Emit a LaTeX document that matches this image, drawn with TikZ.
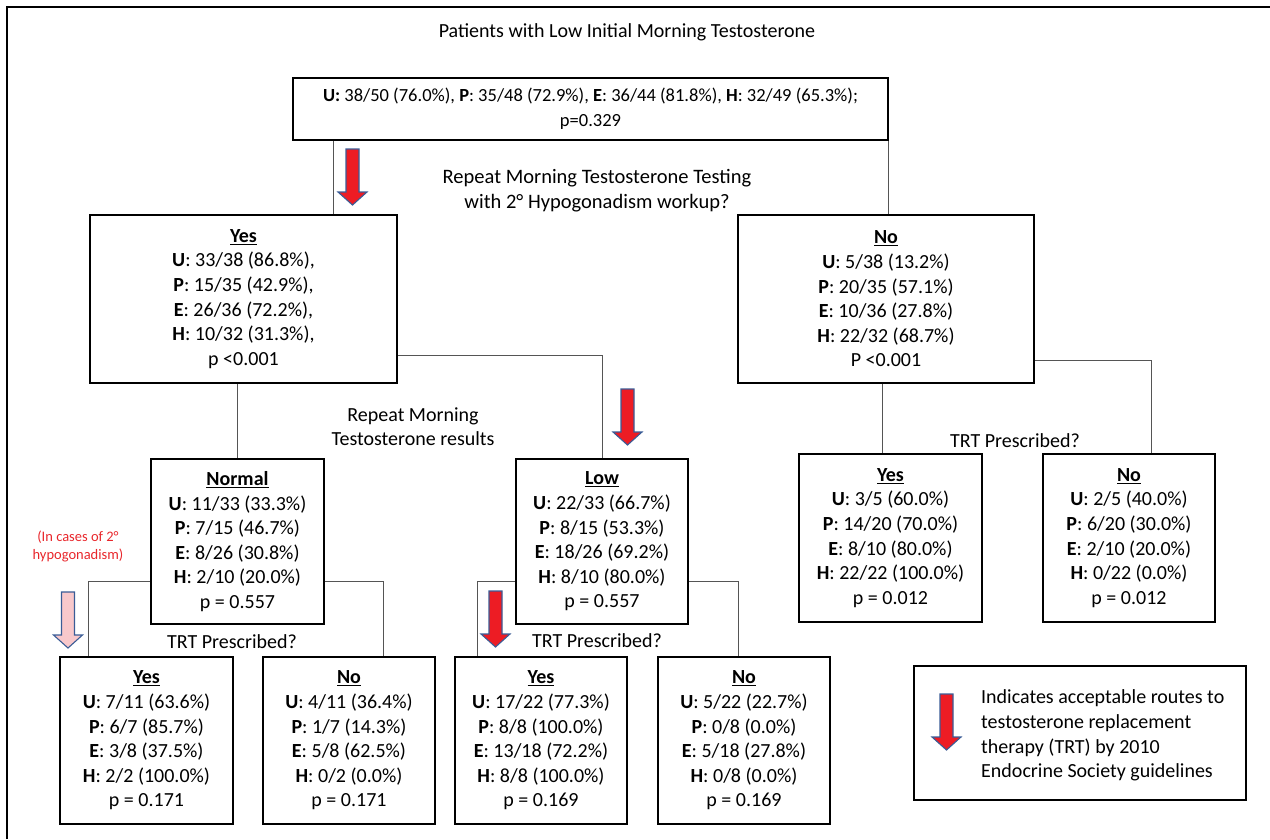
\documentclass[tikz,border=0pt]{standalone}
\usepackage{fontspec}
\setmainfont{Carlito}
\usepackage{xcolor}
\usepackage{tikz}
\usetikzlibrary{positioning}

\definecolor{arrowred}{RGB}{237,28,36}
\definecolor{arrowblue}{RGB}{58,92,150}
\definecolor{linkgray}{RGB}{85,85,85}
\definecolor{notered}{RGB}{232,38,43}
\definecolor{pinkmid}{RGB}{232,88,96}
\definecolor{pinkend}{RGB}{248,200,203}

% down arrow, top centre at (#1,#2)
\newcommand{\trtarrow}[3]{%
  \draw[#3,shift={(#1,#2)}] (-6.5,0) -- (6.5,0) -- (6.5,43) -- (14.5,43)
    -- (0,56) -- (-14.5,43) -- (-6.5,43) -- cycle;}

\begin{document}
\begin{tikzpicture}[x=1pt,y=-1pt,
  font=\fontsize{20}{24.6}\selectfont,
  box/.style={draw=black,line width=1.6pt,inner sep=0pt,align=center},
  link/.style={draw=linkgray,line width=0.9pt},
  label/.style={align=center,inner sep=0pt},
  redarrow/.style={fill=arrowred,draw=arrowblue,line width=1.1pt},
  pinkarrow/.style={top color=pinkend,middle color=pinkmid,bottom color=pinkend,draw=arrowblue,line width=1.1pt}]
\useasboundingbox (0,0) rectangle (1270,839);

\draw[line width=2pt] (7,839) -- (7,7) -- (1270,7);

\node[label] (title) at (627,32) {Patients with Low Initial Morning Testosterone};

\node[box,minimum width=595pt,minimum height=62pt,font=\fontsize{18.5}{24.6}\selectfont] (top) at (590.5,109)
  {\textbf{U:} 38/50 (76.0\%), \textbf{P}: 35/48 (72.9\%), \textbf{E}: 36/44 (81.8\%), \textbf{H}: 32/49 (65.3\%);\\p=0.329};

\node[label,font=\fontsize{20.5}{24.6}\selectfont] (q1) at (597,190.5) {Repeat Morning Testosterone Testing\\with 2° Hypogonadism workup?};

\node[box,minimum width=307pt,minimum height=168pt] (yes) at (243.5,299)
  {\underline{\textbf{Yes}}\\\textbf{U}: 33/38 (86.8\%),\\\textbf{P}: 15/35 (42.9\%),\\\textbf{E}: 26/36 (72.2\%),\\\textbf{H}: 10/32 (31.3\%),\\p <0.001};
\node[box,minimum width=296pt,minimum height=168pt] (no) at (886,299)
  {\underline{\textbf{No}}\\\textbf{U}: 5/38 (13.2\%)\\\textbf{P}: 20/35 (57.1\%)\\\textbf{E}: 10/36 (27.8\%)\\\textbf{H}: 22/32 (68.7\%)\\P <0.001};

\node[label] (q2) at (413,426.5) {Repeat Morning\\Testosterone results};

\node[box,minimum width=173pt,minimum height=165pt] (normal) at (237.5,541.5)
  {\underline{\textbf{Normal}}\\\textbf{U}: 11/33 (33.3\%)\\\textbf{P}: 7/15 (46.7\%)\\\textbf{E}: 8/26 (30.8\%)\\\textbf{H}: 2/10 (20.0\%)\\p = 0.557};
\node[box,minimum width=172pt,minimum height=165pt] (low) at (602,541.5)
  {\underline{\textbf{Low}}\\\textbf{U}: 22/33 (66.7\%)\\\textbf{P}: 8/15 (53.3\%)\\\textbf{E}: 18/26 (69.2\%)\\\textbf{H}: 8/10 (80.0\%)\\p = 0.557};

\node[box,minimum width=183pt,minimum height=168pt] (ryes) at (890.5,538)
  {\underline{\textbf{Yes}}\\\textbf{U}: 3/5 (60.0\%)\\\textbf{P}: 14/20 (70.0\%)\\\textbf{E}: 8/10 (80.0\%)\\\textbf{H}: 22/22 (100.0\%)\\p = 0.012};
\node[box,minimum width=172pt,minimum height=168pt] (rno) at (1129,538)
  {\underline{\textbf{No}}\\\textbf{U}: 2/5 (40.0\%)\\\textbf{P}: 6/20 (30.0\%)\\\textbf{E}: 2/10 (20.0\%)\\\textbf{H}: 0/22 (0.0\%)\\p = 0.012};
\node[label] (trtr) at (1015,441) {TRT Prescribed?};

\node[label,text=notered,font=\fontsize{14.5}{18}\selectfont] (note) at (78,546) {(In cases of 2°\\hypogonadism)};
\node[label] (trtn) at (232,642) {TRT Prescribed?};
\node[label] (trtl) at (597,641) {TRT Prescribed?};

\node[box,minimum width=173pt,minimum height=167pt] (nyes) at (146.5,740.5)
  {\underline{\textbf{Yes}}\\\textbf{U}: 7/11 (63.6\%)\\\textbf{P}: 6/7 (85.7\%)\\\textbf{E}: 3/8 (37.5\%)\\\textbf{H}: 2/2 (100.0\%)\\p = 0.171};
\node[box,minimum width=172pt,minimum height=167pt] (nno) at (349,740.5)
  {\underline{\textbf{No}}\\\textbf{U}: 4/11 (36.4\%)\\\textbf{P}: 1/7 (14.3\%)\\\textbf{E}: 5/8 (62.5\%)\\\textbf{H}: 0/2 (0.0\%)\\p = 0.171};
\node[box,minimum width=172pt,minimum height=167pt] (lyes) at (541,740.5)
  {\underline{\textbf{Yes}}\\\textbf{U}: 17/22 (77.3\%)\\\textbf{P}: 8/8 (100.0\%)\\\textbf{E}: 13/18 (72.2\%)\\\textbf{H}: 8/8 (100.0\%)\\p = 0.169};
\node[box,minimum width=172pt,minimum height=167pt] (lno) at (744,740.5)
  {\underline{\textbf{No}}\\\textbf{U}: 5/22 (22.7\%)\\\textbf{P}: 0/8 (0.0\%)\\\textbf{E}: 5/18 (27.8\%)\\\textbf{H}: 0/8 (0.0\%)\\p = 0.169};

\node[box,minimum width=332pt,minimum height=134pt] (legend) at (1080,733) {};
\node[label,align=left,anchor=west] (legendtext) at (981,735.5)
  {Indicates acceptable routes to\\testosterone replacement\\therapy (TRT) by 2010\\Endocrine Society guidelines};

% connectors
\coordinate (topl) at ([xshift=41pt]top.south west);
\coordinate (ryesin) at ([xshift=-8.5pt]ryes.north);
\coordinate (rnoin) at ([xshift=22pt]rno.north);
\coordinate (nyesin) at ([xshift=29pt]nyes.north west);
\coordinate (nnoin) at ([xshift=-52pt]nno.north east);
\coordinate (lyesin) at ([xshift=23pt]lyes.north west);
\coordinate (lnoin) at ([xshift=-6pt]lno.north);

\draw[link] (topl) -- (topl |- yes.north);
\draw[link] (top.south east) -- (top.south east |- no.north);
\draw[link] (normal.north) -- (normal.north |- yes.south);
\draw[link] ([yshift=-56pt]yes.east) -| (low.north);
\draw[link] (ryesin) -- (ryesin |- no.south);
\draw[link] ([yshift=-61pt]no.east) -| (rnoin);
\draw[link] ([yshift=-39.5pt]normal.west) -| (nyesin);
\draw[link] ([yshift=-39.5pt]normal.east) -| (nnoin);
\draw[link] ([yshift=-39.5pt]low.west) -| (lyesin);
\draw[link] ([yshift=-39.5pt]low.east) -| (lnoin);

% arrows
\trtarrow{352.5}{149}{redarrow}
\trtarrow{627.5}{389}{redarrow}
\trtarrow{495.5}{591}{redarrow}
\trtarrow{68}{592}{pinkarrow}
\trtarrow{946.5}{694}{redarrow}
\end{tikzpicture}
\end{document}
